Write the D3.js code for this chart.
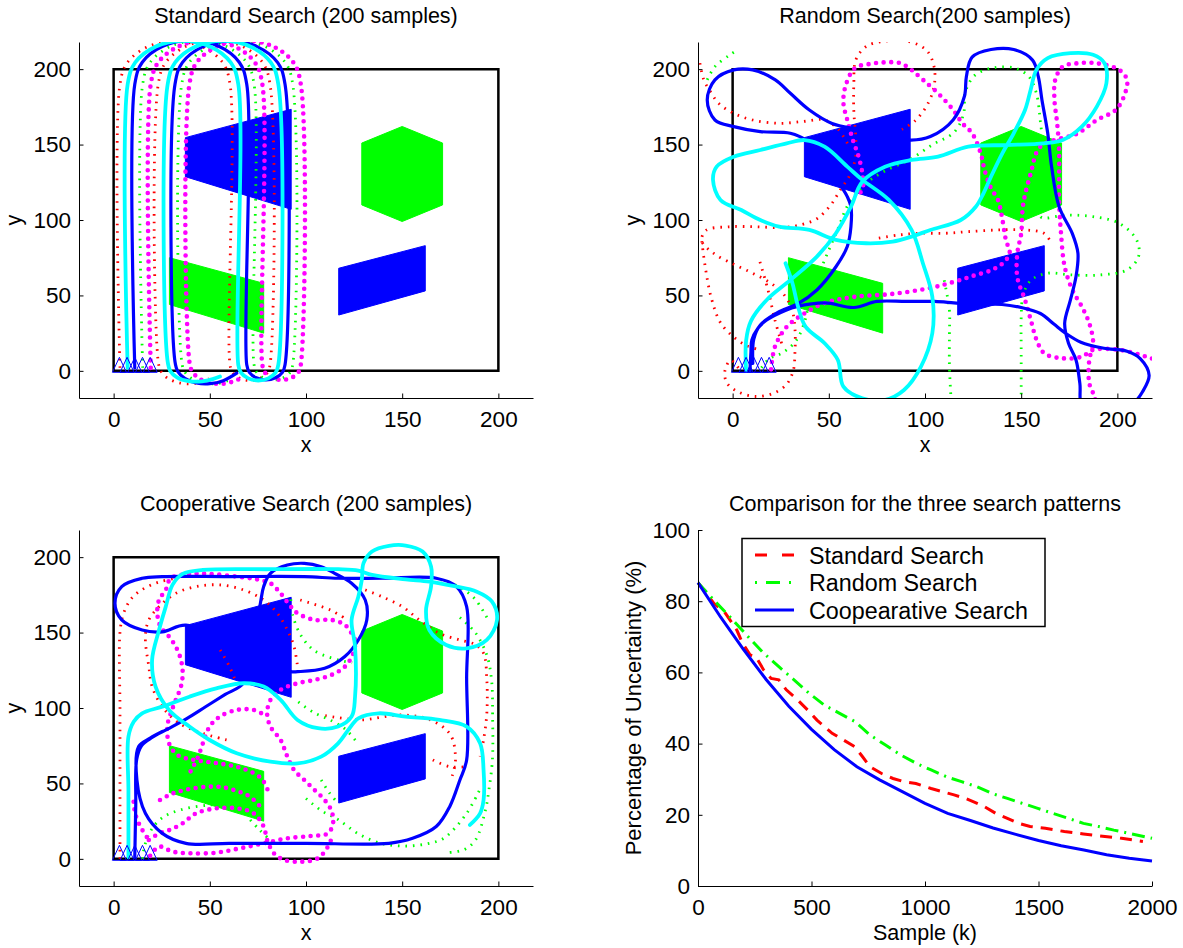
<!DOCTYPE html>
<html><head><meta charset="utf-8">
<script src="https://cdn.jsdelivr.net/npm/d3@7"></script>
<style>
body{margin:0;background:#fff}
svg{display:block}
</style>
</head><body>
<svg id="c" width="1183" height="948"></svg>
<script>
// ---------------- DATA ----------------
const mapTicks = [0, 50, 100, 150, 200];
const mapDomain = [-18, 218];
const searchArea = [[0,0],[200,0],[200,200],[0,200]];
const targetBlueTrap = [[37.3,154.6],[92.3,173.4],[92.3,107.1],[37.3,128.7]];
const targetBluePar = [[117,68],[162,83],[162,53],[117,37]];
const targetGreenHex = [[150,162],[171,151],[171,110],[150,99],[129,110],[129,151]];
const targetGreenPar = [[29,75],[78,58],[78,25],[29,44]];
const agentStartX = [3, 7, 11, 15, 19];
const agentStartY = 4;

// Standard search paths
const stdRed = [[3.3,2],[3.3,190],[7.1,204.3],[17.6,214.8],[31.9,218.6],[46.2,214.8],[56.7,204.3],[60.5,190],[60.5,4],[61.9,-1.2],[65.7,-5],[70.9,-6.4],[76.1,-5],[79.9,-1.2],[81.3,4],[81.3,190],[77.4,204.5],[66.8,215.2],[52.25,219],[37.7,215.2],[27.1,204.5],[23.2,190],[23.2,6],[24.7,-0.5],[28.2,-5],[34.2,-8],[41.2,-8.5],[47.2,-6.5],[49.5,-5]];
const stdCyan = [[7.3,2],[7.3,190],[11.2,204.4],[21.7,214.9],[36,218.8],[50.4,214.9],[60.9,204.4],[64.8,190],[64.8,4],[66.2,-1.2],[70,-5],[75.2,-6.4],[80.4,-5],[84.2,-1.2],[85.6,4],[85.6,190],[81.75,204.4],[71.3,214.9],[56.85,218.75],[42.4,214.9],[31.95,204.4],[28.1,190],[28.1,6],[29.6,-0.5],[33.1,-4.5],[39,-6.8],[46,-7],[51.5,-5.5],[55.3,-3.8]];
const stdBlue = [[11,2],[11,190],[14.9,204.6],[25.5,215.2],[40.1,219.1],[54.7,215.2],[65.3,204.6],[69.2,190],[69.2,4],[70.55,-1],[74.15,-4.6],[79.15,-6],[84.15,-4.6],[87.75,-1],[89.1,4],[89.1,190],[85.3,204.3],[74.8,214.8],[60.5,218.6],[46.2,214.8],[35.7,204.3],[31.9,190],[31.9,6],[33.4,-0.5],[37,-5],[43,-8],[50,-8.5],[57,-6.5],[64,-1.5]];
const stdGreen = [[15.1,2],[15.1,190],[19,204.5],[29.6,215.1],[44,219],[58.5,215.1],[69.1,204.5],[73,190],[73,4],[74.35,-1],[78,-4.7],[83,-6],[88,-4.7],[91.7,-1],[93.1,4],[93.1,190],[89.25,204.4],[78.7,215],[64.25,218.85],[49.8,215],[39.3,204.4],[35.4,190],[35.4,6],[36.9,-0.5],[40.4,-5],[46.4,-8],[53.4,-8.5],[59.4,-6.5],[62,-5]];
const stdMagenta = [[19.3,2],[19.3,190],[23.2,204.5],[33.8,215.1],[48.3,219],[62.8,215.1],[73.4,204.5],[77.3,190],[77.3,4],[78.6,-1],[82.3,-4.7],[87.3,-6],[92.3,-4.7],[96,-1],[97.3,4],[97.3,190],[93.4,204.5],[82.85,215.1],[68.35,218.95],[53.85,215.1],[43.25,204.5],[39.4,190],[39.4,6],[40.9,-0.5],[44.4,-5],[50.4,-8],[57.4,-8.5],[63.4,-6.5],[66,-5]];

// Random search paths
const rndRed = [
 [[3,2],[-1,7],[-4,0],[-3,-8],[3,-14],[12,-17],[21,-15],[28,-9],[31.5,0],[32.4,12],[32.4,28],[31,40],[27,50],[20,58],[10,65],[0,71],[-10,78],[-16,86],[-14,93],[-2,95.5],[12,95.5],[26,95],[36,97],[44,101],[51,110],[56,120],[61,130],[64,142],[64,155],[63,172],[63,190],[64,206],[69.4,215],[79,218.5],[91,218.5],[100.8,212.5],[104.7,201.7],[104.7,188.4],[101,176],[95,166],[88,160]],
 [[-17,204],[-15,193],[-11,184],[-7,177],[0.6,170.7],[10.4,166.3],[24.2,164.1],[36,165.2],[47.8,166.3],[55,160],[60,150]],
 [[-16,86],[-14.4,70.2],[-10.8,47],[-5.5,30.4],[6.4,17.2],[14,14]],
 [[14.2,72.2],[18.4,53.6],[22,33.7],[25.7,17.2]],
 [[76,88],[86,90],[96.9,91.2],[110.7,91.2],[122.5,92.3],[138.2,93.4],[152,93.4],[161.8,91.2],[165.8,84.6]]
];
const rndGreen = [
 [[15,2],[19,8],[26,12],[33,20],[38,35],[40,50],[45,65],[50,80],[55,95],[60,110],[70,125],[80,133],[92,140],[104,150],[115,158],[120,170],[121,185],[126,196],[136,201],[147,200.6],[154,195],[157.9,184],[160,165],[162,140],[162,120],[160,102.2],[173.6,103.3],[187.4,102.2],[201,97.8],[210,86.8],[211,75.7],[205,66.9],[191.3,63.6],[175.6,63.6],[163.8,64.7],[155,60],[151,50],[150,35],[150,15],[150,-22]],
 [[-13.2,192.9],[-9.2,201.7],[-1.4,209.5],[2.6,212.8]],
 [[110,60],[112.7,40],[112.7,24.9],[112.7,2.8],[113.7,-22]]
];
const rndMagenta = [
 [[20,1],[22,16],[28,29],[36,37],[48,45],[63,49],[83,51],[103,55],[115,59],[125,63],[135,67],[141,72],[144,78],[142,87],[140,102],[138,113],[134,122],[131,133],[129,144],[124.5,157.5],[119.5,164],[114.6,173],[106.8,184],[98.9,193],[93,199.5],[87,204],[79,204.5],[71.4,203.5],[63.5,200.6],[58.6,188.4],[57.6,177.4],[59.6,166.3],[62.5,153],[65.5,142],[67.4,131],[67.4,120],[63.5,115.5]],
 [[188.4,-24],[188.4,-18.2],[185.4,-8.3],[185.4,7.2],[187.4,18.3],[185.4,31.5],[181.5,42.6],[176.6,53.6],[172.6,69.1],[170.7,91.2],[169.7,113.3],[169.7,146.4],[168.7,164.1],[167.3,179.6],[167.7,192.9],[171.6,201.7],[179.5,203.9],[189.3,203.9],[201,199.5],[205,193],[204,184],[199.2,173],[189.3,166.3],[179.5,157.5],[160,148.6],[155,131],[151,110],[150,91],[148,78],[148,62],[152,47],[155,33.7],[158,20.5],[162,11.6],[171.6,8.3],[181.5,9.4],[187.4,13.9],[201,13.9],[215,9.4],[225,5]]
];
const rndBlue = [[[9,0],[9.5,12],[10,20.5],[13,28],[17.7,33.7],[28,40.4],[33.3,42.6],[48,45],[63,42],[75,46],[90,46],[105,46],[115,45],[125,44],[140,44],[150,42],[160,38],[167,31],[173,25],[181,19],[193,15],[205,13],[212,8],[216.5,-3],[213,-14],[208,-22],[196,-30],[182,-25],[180.5,-8.3],[178.5,7.2],[174.6,18.3],[172.6,31.5],[175.6,47],[178.5,62.5],[179.5,78],[176.6,91],[169.7,108.8],[165.8,135.4],[163.8,157.5],[160.8,179.6],[158.9,195],[155.9,206],[146.1,213],[134.3,213],[124.5,208],[121.5,195],[120.5,182],[114.6,166.3],[102.8,155.3],[92.6,153],[80,156],[66,160],[51.7,164],[39.9,172.9],[30,184],[22.2,192.9],[10.4,199.5],[0.6,199.5],[-9.2,192.9],[-13.2,179.6],[-9.2,166.3],[0.6,161.9],[14.4,158.6],[30,157.5],[37.9,153],[45,142],[52,130],[57.6,120],[59.6,115.5],[61.5,108.8],[61.5,95.6],[59.6,82.4],[53.7,69],[43.8,53.6],[34,44.5],[24.2,39.2],[14.4,30.4],[11,21],[10.5,5]]];
const rndCyan = [[[7,0],[7,20],[9.5,33],[17.7,47],[30.1,60.3],[43.8,75.7],[53.7,91.2],[61.5,108.8],[67.4,125.4],[79.2,135.3],[93,139.8],[106.8,142],[122.5,148.6],[142.2,149.7],[161.8,150.8],[171.6,153],[181.5,161.9],[189.3,175.2],[194.3,190.7],[193.3,203.9],[187.4,209.5],[175.6,210.6],[163.8,207.3],[157.9,199.5],[154.9,186.2],[152,172.9],[146.1,157.5],[140.2,144.2],[134.3,128.7],[130.4,117.7],[126.4,108.8],[118.6,100],[102.8,93.4],[93,89],[83.2,85.7],[69.4,84.6],[53.7,86.8],[39.9,93.4],[24.2,95.6],[14.4,100],[4.5,106.6],[-6.3,113.3],[-10.2,126.6],[-8.3,135.4],[0.6,142],[14.4,146.4],[28.1,150.8],[37.4,153],[47.8,148.6],[59.6,135.4],[67.4,126.6],[81.2,113.3],[93,93.4],[98.9,71.3],[103.8,49.2],[103.8,24.9],[97.9,2.8],[89.1,-12.7],[79.2,-19.3],[67.4,-18.2],[57.6,-10.5],[54.7,7.2],[47.8,18.3],[37.9,29.3],[34,42.6],[31.1,58.1],[27.5,71.3]]];

// Cooperative search paths
const coopRed = [
 [[3.3,0],[3.3,50],[3.3,100],[3.3,150],[5,162],[8.5,171.3],[13,177],[18.9,181.2],[25,184],[31.9,185.9]],
 [[58.7,78.8],[46.4,83.2],[34.1,89.9],[25.3,100.9],[20,114.2],[18.3,127.4],[16.5,147.3],[18.3,158.4],[23.6,167.2],[32.3,176],[42.9,180.5],[55.2,181.6],[67.5,178.3],[78,171.6],[85.1,162.8],[90.3,151.7],[93.8,140.7],[95.6,127.4]],
 [[130.8,178.3],[139.5,173.8],[150.1,167.2],[158.9,158.4],[169.4,149.5],[180,145.1],[188,142],[192.3,136.3],[194,118.6],[194,96.5],[192.3,78.8],[190.5,67.8]],
 [[110,95],[128.3,92.1],[149,95.4],[164.7,92.1],[175.1,82.2],[177.7,65.6],[176,55]],
 [[97,171.6],[112.6,165],[122,158]],
 [[55.4,138.5],[60,128],[63.2,118.6]],
 [[165.9,65.6],[174.7,61.1],[183.5,61.1]]
];
const coopGreen = [
 [[180,160],[188,150],[194,135],[196.5,118],[197,95],[196.9,65.6],[195,45],[193.3,32.4],[188.1,12.5],[182,6],[172,4]],
 [[100,40],[108,32],[116.7,26],[128,16],[140,10],[151.8,8.5],[163,10],[172,14],[183.5,30.2],[190,45]],
 [[15,0],[16,8],[19,18],[25,27],[34.5,32.4],[50.1,35.7],[62,36],[70,33]],
 [[92.1,172],[93,162],[97.4,148],[104.4,138],[116.7,131.9],[124,130]],
 [[96,104],[104,97],[112.6,92],[120.4,86],[126,78]],
 [[107.9,52.3],[112,44],[116.7,36.8]],
 [[170,185],[180,180],[188,172],[194,160]],
 [[71,25.8],[76,19],[81.4,12.5]]
];
const coopMagenta = [
 [[19,2],[23.6,8.1],[30.6,4.8],[39.4,3.7],[53.4,4.1],[65.7,7],[78,10.3],[90.3,13.6],[102.6,15.2],[111.4,16.9],[114.1,24],[113.2,32],[109.7,39],[104.4,45.7],[99.1,52.3],[93.8,58.9],[90.3,67.8],[86.8,78.8],[81.5,87.7],[79.8,96.5],[81.5,105.3],[86.8,112],[95.6,116.4],[104.4,118.6],[113.2,121.9],[120.2,127.4],[124.6,136.3],[125.5,145.1],[123.7,149.5],[120.2,155.1],[113.2,158.4],[104.4,158.4],[95.6,162.8],[92.1,167.2],[86.8,176],[81.5,182.7],[74.5,185.3],[64,187.1],[49.9,188.9],[39.4,188.9],[29.7,186],[27.1,178.3],[23.6,171.6],[22.7,162.8],[24.4,153.9],[28.8,147.3],[32.3,140.7],[35,131.9],[35.9,123],[35,114.2],[32.3,105.3],[29.7,96.5],[27.9,87.7],[28.8,76.6],[33,69],[40,66],[48.2,64.4],[56,63],[64,61],[71,58],[77,53],[80,46]],
 [[40,58],[44,68],[46.4,76.6],[49.9,87.7],[55.2,94.3],[64,98.7],[72.8,98.7],[79.8,94.3]],
 [[18.3,12.5],[24,17],[28.8,19],[35.9,23.6],[42.9,30.2],[53.4,33.5],[64,33.5],[72.8,30.2],[78,21.4],[79.8,12.5],[83.3,3.7],[88.6,-0.7],[97.4,-1.9],[106.2,0.4],[111.4,8.1],[114,16]],
 [[10.4,37.9],[11.2,30.2],[13.9,21.4],[18.3,12.5]],
 [[24.1,39],[30,43],[37.2,45.7],[46,47.5],[55.4,47.7],[64,45],[71,41.1],[76,35]]
];
const coopBlue = [[[11,1],[11.5,35],[12,66],[14.5,75],[20,80.5],[28,86],[38,93],[48,101],[58,109],[67.5,116.5],[72,140],[76.3,169.4],[78,180.5],[81.5,189.3],[90.3,194.8],[99.1,195.9],[107.9,193.7],[114.9,189.3],[123.7,182.7],[130.8,171.6],[131.6,158.4],[127.2,145.1],[120.2,134.1],[109.7,126.3],[95.6,124.1],[92.1,124.1],[65,140],[37.6,154.9],[25.3,150.5],[14.8,151.7],[4.2,158.4],[0.7,169.4],[4.2,180.5],[14.8,186],[25.3,187.1],[60,187.1],[99.1,187.1],[116.7,186],[140,186],[167.7,186],[178.2,180.5],[183.5,167.2],[183.5,120],[183.5,65.5],[180,52.3],[174.7,34.6],[167.7,21.4],[155.4,13.6],[143.1,10.3],[100,10.3],[60,10.3],[37.6,10.3],[25.3,16.9],[16.5,30.2],[12.1,52.3],[13,74.4],[19,80],[25.3,84.4]]];
const coopCyan = [[[7.7,1],[7.7,45],[7.7,81],[10.5,91],[14.8,96.5],[25.3,100.9],[39.4,107.5],[53.4,113],[67.5,116.4],[78,114.2],[86.8,105.4],[95.6,92.1],[106.2,86.6],[116.7,87.7],[123.7,94.3],[125.5,107.5],[125.5,140.7],[123.7,158.4],[127.2,173.8],[129,184.9],[129.9,196],[134.3,203.7],[143.1,207.5],[151.8,207.7],[160.6,203.7],[165,193.8],[165,180.5],[162.4,165],[164.1,151.7],[172.9,141.8],[183.5,139.6],[194,145.1],[199.3,158.4],[196.7,170.5],[188.8,177.1],[176.4,180.9],[164.1,183.8],[151.8,185.3],[134.3,188.2],[127.2,191.1],[116.7,192],[81.5,192],[46.4,191.5],[35.9,188.9],[30.6,181.6],[27.1,167.2],[23.6,151.7],[20,131.9],[21.8,114.2],[28.8,98.7],[39.4,87.7],[49.9,78.8],[64,70],[81.5,64.4],[95.6,63.3],[107.9,67.8],[116.7,76.6],[122,85.5],[127.2,93.2],[137.8,96.5],[151.8,94.3],[169.4,92.1],[183.5,87.7],[190.5,76.6],[192.3,58.9],[192.3,39],[190.5,30.2],[185.2,22.5]]];

// Comparison chart
const cmpTicksX = [0, 500, 1000, 1500, 2000];
const cmpTicksY = [0, 20, 40, 60, 80, 100];
const stdK   = [0,70,121,171,196,230,255,289,322,356,389,440,490,524,557,591,641,691,725,758,809,859,909,960,1027,1077,1128,1178,1212,1262,1312,1363,1413,1463,1530,1614,1698,1782,1866,1960];
const stdPct = [85.2,79.4,76.6,71.9,68.2,64.9,64.4,60.7,58.3,57.9,55.1,52.2,49,46.6,44.8,42.9,41,39.1,36.3,33.5,31.6,30.2,29.3,28.8,27.4,26.5,25.6,24.6,23.7,22.3,20.4,19,17.6,16.7,16.2,15.3,14.6,14,13.4,12.5];
const rndK   = [0,70,154,221,289,356,423,490,557,624,691,758,826,893,960,1027,1094,1161,1228,1295,1363,1430,1497,1564,1631,1698,1765,1832,1900,2000];
const rndPct = [85.2,80.3,74.7,70,65.4,61.6,57.9,54.1,50.8,48.5,46.2,42.4,39.6,36.8,34.5,32.6,30.7,29.3,27.9,26,24.6,23.2,21.8,20.4,19,17.6,16.7,15.7,14.8,13.4];
const coopK   = [0,100,200,300,400,500,600,700,800,900,1000,1100,1200,1300,1400,1500,1600,1700,1800,1900,2000];
const coopPct = [85.2,75.5,66.5,58,50.5,44,38.3,33.5,29.8,26.5,23.2,20.4,18.4,16.3,14.5,12.8,11.3,10.1,8.8,7.8,7.0];
const legendNames = ["Standard Search", "Random Search", "Coopearative Search"];

// ---------------- DRAWING ----------------
const FONT = '"Liberation Sans", Arial, Helvetica, sans-serif';
const svg = d3.select('#c');
svg.append('rect').attr('width',1183).attr('height',948).attr('fill','#fff');

const style = {
  red:     {c:'#ff0000', w:2.8, dash:'1.6 5.9', cap:'butt'},
  green:   {c:'#00ff00', w:2.8, dash:'1.6 5.9', cap:'butt'},
  magenta: {c:'#ff00ff', w:4.6, dash:'0 7.6', cap:'round'},
  blue:    {c:'#0000ff', w:3.2, dash:null, cap:'round'},
  cyan:    {c:'#00ffff', w:3.8, dash:null, cap:'round'}
};

function styleAxis(g, size){
  g.selectAll('text').attr('font-size', size).attr('font-family', FONT).attr('fill','#000');
  g.selectAll('line').attr('stroke','#000').attr('stroke-width',1);
  g.select('.domain').attr('stroke','#000').attr('stroke-width',1);
}

function drawMap(L, T, title, agents, id){
  const PW = 454, PH = 356;
  const x = d3.scaleLinear().domain(mapDomain).range([L, L+PW]);
  const y = d3.scaleLinear().domain(mapDomain).range([T+PH, T]);
  const g = svg.append('g');
  svg.append('clipPath').attr('id','clip'+id).append('rect')
     .attr('x',L).attr('y',T).attr('width',PW).attr('height',PH);
  const inner = g.append('g').attr('clip-path','url(#clip'+id+')');
  const poly = pts => 'M' + pts.map(p => x(p[0]) + ',' + y(p[1])).join('L') + 'Z';
  [[targetBlueTrap,'#0000ff'],[targetBluePar,'#0000ff'],[targetGreenHex,'#00ff00'],[targetGreenPar,'#00ff00']]
    .forEach(([pts,c]) => inner.append('path').attr('d', poly(pts)).attr('fill', c).attr('stroke', c).attr('stroke-width',1));
  inner.append('path').attr('d', poly(searchArea)).attr('fill','none').attr('stroke','#000').attr('stroke-width',2.5);
  const line = d3.line().x(d=>x(d[0])).y(d=>y(d[1])).curve(d3.curveCatmullRom.alpha(0.5));
  agents.forEach(([segs, key]) => {
    const s = style[key];
    segs.forEach(seg => {
      const p = inner.append('path').attr('d', line(seg)).attr('fill','none')
        .attr('stroke', s.c).attr('stroke-width', s.w).attr('stroke-linecap', s.cap).attr('stroke-linejoin','round');
      if (s.dash) p.attr('stroke-dasharray', s.dash);
    });
  });
  agentStartX.forEach(sx => {
    const cx = x(sx), cy = y(agentStartY);
    g.append('path').attr('d', `M${cx-7},${cy+7.5}L${cx},${cy-7.5}L${cx+7},${cy+7.5}Z`)
     .attr('fill','none').attr('stroke','#0000ff').attr('stroke-width',1);
  });
  const gx = g.append('g').attr('transform',`translate(0,${T+PH})`)
     .call(d3.axisBottom(x).tickValues(mapTicks).tickFormat(d3.format('d')).tickSize(-4.5).tickSizeOuter(0).tickPadding(13));
  styleAxis(gx, 22.5);
  const gy = g.append('g').attr('transform',`translate(${L},0)`)
     .call(d3.axisLeft(y).tickValues(mapTicks).tickFormat(d3.format('d')).tickSize(-4.5).tickSizeOuter(0).tickPadding(8));
  styleAxis(gy, 22.5);
  g.append('text').attr('x', L+PW/2).attr('y', T-19).attr('text-anchor','middle')
   .attr('font-family',FONT).attr('font-size',21.5).text(title);
  g.append('text').attr('x', L+PW/2).attr('y', T+PH+54).attr('text-anchor','middle')
   .attr('font-family',FONT).attr('font-size',21.5).text('x');
  g.append('text').attr('transform',`translate(${L-58},${T+PH/2}) rotate(-90)`).attr('text-anchor','middle')
   .attr('font-family',FONT).attr('font-size',21.5).text('y');
}

drawMap(79, 42, 'Standard Search (200 samples)',
  [[[stdRed],'red'],[[stdGreen],'green'],[[stdMagenta],'magenta'],[[stdBlue],'blue'],[[stdCyan],'cyan']], 1);
drawMap(698, 42, 'Random Search(200 samples)',
  [[rndRed,'red'],[rndGreen,'green'],[rndMagenta,'magenta'],[rndBlue,'blue'],[rndCyan,'cyan']], 2);
drawMap(79, 530, 'Cooperative Search (200 samples)',
  [[coopRed,'red'],[coopGreen,'green'],[coopMagenta,'magenta'],[coopBlue,'blue'],[coopCyan,'cyan']], 3);

(function(){
  const L = 698, T = 530, PW = 454, PH = 356;
  const x = d3.scaleLinear().domain([0,2000]).range([L, L+PW]);
  const y = d3.scaleLinear().domain([0,100]).range([T+PH, T]);
  const g = svg.append('g');
  const line = d3.line().x(d=>x(d[0])).y(d=>y(d[1]));
  const series = [
    [d3.zip(stdK, stdPct), '#ff0000', '12 8'],
    [d3.zip(rndK, rndPct), '#00ff00', '13 6 2 6'],
    [d3.zip(coopK, coopPct), '#0000ff', null]
  ];
  series.forEach(([d,c,dash]) => {
    const p = g.append('path').attr('d', line(d)).attr('fill','none').attr('stroke',c).attr('stroke-width',3);
    if (dash) p.attr('stroke-dasharray', dash);
  });
  const gx = g.append('g').attr('transform',`translate(0,${T+PH})`)
     .call(d3.axisBottom(x).tickValues(cmpTicksX).tickFormat(d3.format('d')).tickSize(-4.5).tickSizeOuter(0).tickPadding(13));
  styleAxis(gx, 22.5);
  const gy = g.append('g').attr('transform',`translate(${L},0)`)
     .call(d3.axisLeft(y).tickValues(cmpTicksY).tickFormat(d3.format('d')).tickSize(-4.5).tickSizeOuter(0).tickPadding(8));
  styleAxis(gy, 22.5);
  g.append('text').attr('x', L+PW/2).attr('y', T-19).attr('text-anchor','middle')
   .attr('font-family',FONT).attr('font-size',21.5).text('Comparison for the three search patterns');
  g.append('text').attr('x', L+PW/2).attr('y', T+PH+54).attr('text-anchor','middle')
   .attr('font-family',FONT).attr('font-size',21.5).text('Sample (k)');
  g.append('text').attr('transform',`translate(641,${T+PH/2}) rotate(-90)`).attr('text-anchor','middle')
   .attr('font-family',FONT).attr('font-size',22).text('Percentage of Uncertainty (%)');
  const lg = g.append('g');
  lg.append('rect').attr('x',742).attr('y',538.5).attr('width',303).attr('height',88)
    .attr('fill','#fff').attr('stroke','#000').attr('stroke-width',1.5);
  const rows = [555, 582.5, 610];
  series.forEach(([d,c,dash],i) => {
    const l = lg.append('line').attr('x1',755).attr('x2',794).attr('y1',rows[i]).attr('y2',rows[i])
      .attr('stroke',c).attr('stroke-width',3);
    if (dash) l.attr('stroke-dasharray', i===0 ? '12 15' : '2 9 14 9');
    lg.append('text').attr('x',809).attr('y',rows[i]+8.5).attr('font-family',FONT).attr('font-size',23.3).text(legendNames[i]);
  });
})();
</script>
</body></html>
